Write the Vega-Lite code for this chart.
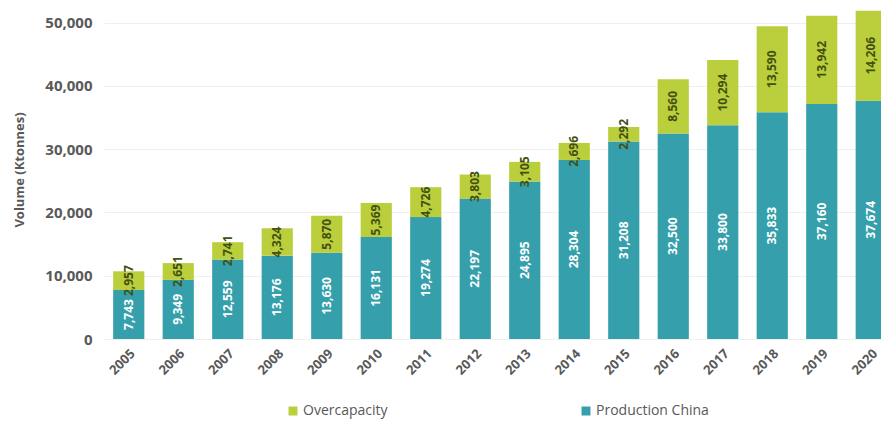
{
  "$schema": "https://vega.github.io/schema/vega-lite/v6.json",
  "width": 792,
  "height": 339,
  "autosize": {"type": "none"},
  "padding": {"left": 104, "top": 0, "right": 0, "bottom": 82},
  "background": "white",
  "config": {
    "font": "Open Sans",
    "view": {"stroke": null}
  },
  "data": {
    "values": [
      {"year": "2005", "series": "Production China", "value": 7743},
      {"year": "2005", "series": "Overcapacity", "value": 2957},
      {"year": "2006", "series": "Production China", "value": 9349},
      {"year": "2006", "series": "Overcapacity", "value": 2651},
      {"year": "2007", "series": "Production China", "value": 12559},
      {"year": "2007", "series": "Overcapacity", "value": 2741},
      {"year": "2008", "series": "Production China", "value": 13176},
      {"year": "2008", "series": "Overcapacity", "value": 4324},
      {"year": "2009", "series": "Production China", "value": 13630},
      {"year": "2009", "series": "Overcapacity", "value": 5870},
      {"year": "2010", "series": "Production China", "value": 16131},
      {"year": "2010", "series": "Overcapacity", "value": 5369},
      {"year": "2011", "series": "Production China", "value": 19274},
      {"year": "2011", "series": "Overcapacity", "value": 4726},
      {"year": "2012", "series": "Production China", "value": 22197},
      {"year": "2012", "series": "Overcapacity", "value": 3803},
      {"year": "2013", "series": "Production China", "value": 24895},
      {"year": "2013", "series": "Overcapacity", "value": 3105},
      {"year": "2014", "series": "Production China", "value": 28304},
      {"year": "2014", "series": "Overcapacity", "value": 2696},
      {"year": "2015", "series": "Production China", "value": 31208},
      {"year": "2015", "series": "Overcapacity", "value": 2292},
      {"year": "2016", "series": "Production China", "value": 32500},
      {"year": "2016", "series": "Overcapacity", "value": 8560},
      {"year": "2017", "series": "Production China", "value": 33800},
      {"year": "2017", "series": "Overcapacity", "value": 10294},
      {"year": "2018", "series": "Production China", "value": 35833},
      {"year": "2018", "series": "Overcapacity", "value": 13590},
      {"year": "2019", "series": "Production China", "value": 37160},
      {"year": "2019", "series": "Overcapacity", "value": 13942},
      {"year": "2020", "series": "Production China", "value": 37674},
      {"year": "2020", "series": "Overcapacity", "value": 14206}
    ]
  },
  "transform": [
    {"stack": "value", "groupby": ["year"], "sort": [{"field": "series", "order": "descending"}], "as": ["v0", "v1"]}
  ],
  "encoding": {
    "x": {
      "field": "year",
      "type": "ordinal",
      "scale": {"paddingInner": 0.37, "paddingOuter": 0.185},
      "axis": {
        "title": null,
        "labelAngle": -45,
        "labelFontSize": 13,
        "labelFontWeight": "bold",
        "labelColor": "#595959",
        "labelPadding": 8,
        "ticks": false,
        "domain": false
      }
    }
  },
  "layer": [
    {
      "mark": {"type": "bar"},
      "encoding": {
        "y": {
          "field": "v0",
          "type": "quantitative",
          "scale": {"domain": [0, 53590], "nice": false},
          "axis": {
            "title": "Volume (Ktonnes)",
            "titleFontSize": 13,
            "titleFontWeight": "bold",
            "titleColor": "#595959",
            "titlePadding": 18,
            "values": [0, 10000, 20000, 30000, 40000, 50000],
            "format": ",d",
            "labelFontSize": 15,
            "labelFontWeight": "bold",
            "labelColor": "#595959",
            "labelPadding": 12,
            "ticks": false,
            "domain": false,
            "gridColor": "#efefef"
          }
        },
        "y2": {"field": "v1"},
        "color": {
          "field": "series",
          "type": "nominal",
          "scale": {"domain": ["Overcapacity", "Production China"], "range": ["#bbce3b", "#35a0ac"]},
          "legend": {
            "title": null,
            "orient": "none",
            "direction": "horizontal",
            "legendX": 182,
            "legendY": 404,
            "symbolType": "square",
            "symbolSize": 81,
            "symbolStrokeWidth": 0,
            "labelFontSize": 14,
            "labelColor": "#595959",
            "labelOffset": 3,
            "columnPadding": 191,
            "padding": 0
          }
        }
      }
    },
    {
      "transform": [{"calculate": "(datum.v0 + datum.v1) / 2", "as": "mid"}],
      "mark": {"type": "text", "angle": 270, "fontSize": 12, "fontWeight": "bold", "align": "center", "baseline": "middle"},
      "encoding": {
        "y": {"field": "mid", "type": "quantitative"},
        "text": {"field": "value", "type": "quantitative", "format": ","},
        "color": {
          "condition": {"test": "datum.series === 'Production China'", "value": "white"},
          "value": "#435012"
        }
      }
    }
  ]
}
